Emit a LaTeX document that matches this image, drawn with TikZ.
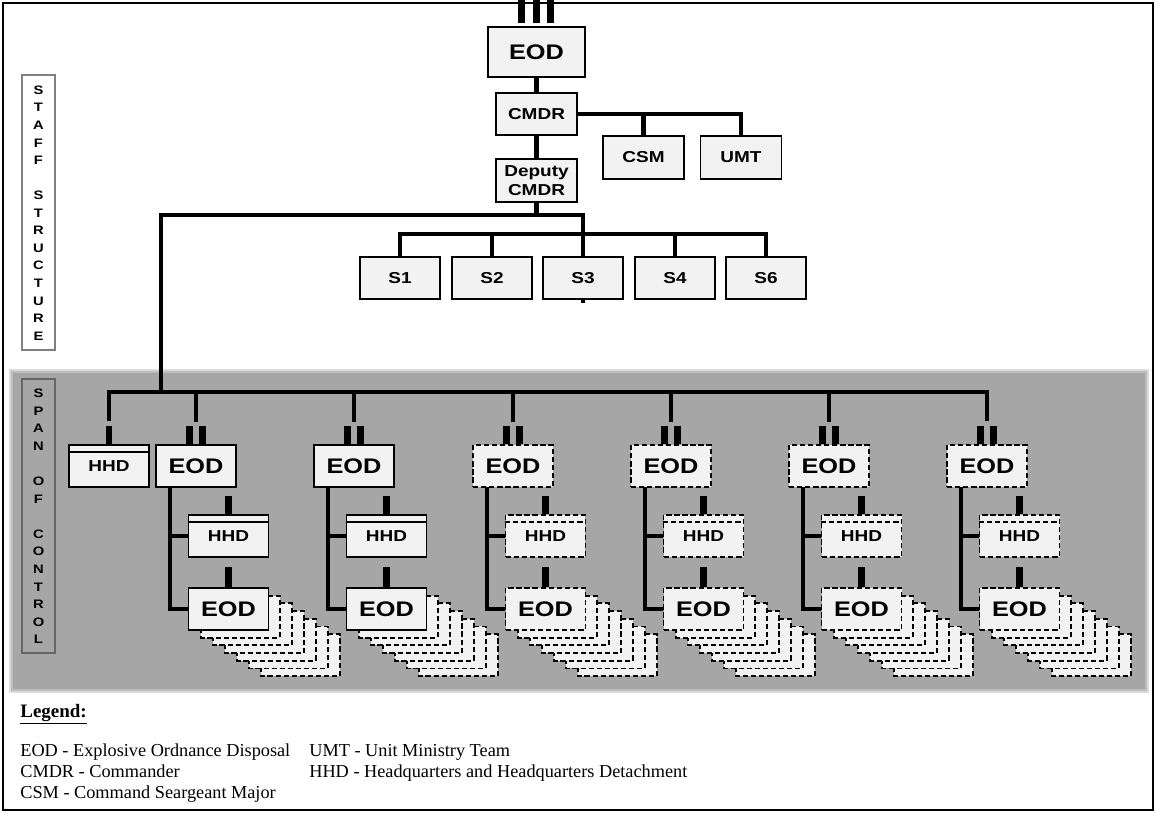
\documentclass[tikz,border=0pt]{standalone}
\usepackage{fontspec}
\setmainfont{Liberation Serif}
\newfontfamily\boxfont[FakeStretch=1.2]{Liberation Sans}
\usetikzlibrary{calc}
\definecolor{boxfill}{RGB}{242,242,242}
\definecolor{spanbg}{RGB}{166,166,166}
\definecolor{lblgray}{RGB}{128,128,128}

\begin{document}
\begin{tikzpicture}[x=0.02cm,y=-0.02cm,
  unit/.style={draw,line width=1.1pt,fill=boxfill,minimum width=1.6cm,minimum height=0.84cm,
    inner sep=0pt,align=center,font=\boxfont\bfseries\fontsize{9}{10.5}\selectfont},
  dunit/.style={unit,dash pattern=on 3pt off 1.6pt},
  big/.style={font=\boxfont\bfseries\fontsize{12}{14}\selectfont},
  copybox/.style={draw,fill=boxfill,line width=1.1pt,dash pattern=on 3pt off 1.6pt},
  conn/.style={line width=2.6pt},
  bar/.style={line width=3.6pt},
  side/.style={align=center,inner sep=0pt,font=\boxfont\bfseries\fontsize{7}{10}\selectfont},
  leg/.style={anchor=base west,inner sep=0pt,font=\fontsize{10.4}{12}\selectfont}]
\useasboundingbox (0,0) rectangle (1156,813);
% frame and shaded span area
\fill[spanbg!40] (9,369) rectangle (1149,693);
\fill[spanbg!75] (11,371) rectangle (1147,691);
\fill[spanbg] (13,373) rectangle (1145,689);
\draw[line width=1.6pt] (3,3) rectangle (1153,810);
% side labels
\draw[lblgray,line width=0.8pt,fill=white] (22,75) rectangle (55,350);
\node[side] (stafflbl) at (38.5,213) {S\\T\\A\\F\\F\\\mbox{}\\S\\T\\R\\U\\C\\T\\U\\R\\E};
\draw[black!60,line width=0.8pt] (22,379) rectangle (55,653);
\node[side] (spanlbl) at (38.5,516.5) {S\\P\\A\\N\\\mbox{}\\O\\F\\\mbox{}\\C\\O\\N\\T\\R\\O\\L};

% staff structure
\node[unit,big,minimum width=1.94cm,minimum height=1cm] (eodtop) at (536.5,52) {EOD};
\node[unit,minimum width=1.62cm] (cmdr) at (536.5,114) {CMDR};
\node[unit,minimum width=1.62cm,minimum height=0.86cm] (deputy) at (536.5,180.5) {Deputy\\CMDR};
\node[unit,minimum width=1.62cm,minimum height=0.86cm] (csm) at (643.5,157.5) {CSM};
\node[unit,minimum width=1.62cm,minimum height=0.86cm] (umt) at (741,157.5) {UMT};
\foreach \s/\x in {1/400,2/492,3/583,4/675,6/766}
  \node[unit] (s\s) at (\x,278) {S\s};

\foreach \dx in {-15,0,14}
  \draw[bar] ($(eodtop.north)+(\dx,-3)$) -- ++(0,-25);
\draw[conn] (eodtop) -- (cmdr);
\draw[conn] (cmdr) -- (deputy);
\draw[conn] (cmdr.east) -| (umt.north);
\draw[conn] (cmdr.east -| csm.north) -- (csm.north);
\coordinate (tee) at (161,215);
\coordinate (spanhub) at (161,393);
\coordinate (sbus) at (400,234);
\draw[conn] (deputy) -- (deputy |- tee);
\draw[conn] (s3.north) |- (tee) -- (spanhub);
\draw[conn] (s1.north) |- (sbus -| s6.north) -- (s6.north);
\foreach \s in {2,4}
  \draw[conn] (s\s) -- (s\s |- sbus);
\draw[conn] (s3.south) -- ++(0,3);

% span of control
\node[unit] (hhd0) at (109,466) {HHD};
\draw[line width=1.1pt] ($(hhd0.north west)+(0,8)$) -- ($(hhd0.north east)+(0,8)$);
\draw[bar] (hhd0.north) -- ++(0,-18);
\foreach \i/\c/\st in {1/196/unit,2/354/unit,3/513/dunit,4/671/dunit,5/829/dunit,6/987/dunit} {
  \foreach \k in {6,5,...,1}
    \filldraw[copybox] (\c-7+12*\k,588+7.7*\k) rectangle ++(79,42);
  \node[\st,big] (eod\i) at (\c,466) {EOD};
  \node[\st] (hq\i) at (\c+32.5,536) {HHD};
  \draw[\st] ($(hq\i.north west)+(0,8)$) -- ($(hq\i.north east)+(0,8)$);
  \node[\st,big] (sub\i) at (\c+32.5,609) {EOD};
  \coordinate (stem\i) at (\c-26,487);
  \draw[conn] (stem\i) |- (sub\i.west);
  \draw[conn] (stem\i |- hq\i.west) -- (hq\i.west);
  \draw[bar] (hq\i.north) -- ++(0,-18);
  \draw[bar] (sub\i.north) -- ++(0,-20);
  \draw[bar] ($(eod\i.north)+(-6.5,0)$) -- ++(0,-18);
  \draw[bar] ($(eod\i.north)+(6.5,0)$) -- ++(0,-18);
}
\draw[conn] ($(hhd0.north)+(0,-23)$) |- ($(eod6.north)+(0,-52)$) -- ++(0,29);
\foreach \i in {1,...,5}
  \draw[conn] (eod\i.north |- spanhub) -- ++(0,29);

% legend
\node[leg,font=\fontsize{10.8}{12}\selectfont\bfseries] (legtitle) at (20,717) {\underline{Legend:}};
\node[leg] (legeod) at (20,756) {EOD - Explosive Ordnance Disposal};
\node[leg] (legcmdr) at (20,777) {CMDR - Commander};
\node[leg] (legcsm) at (20,798) {CSM - Command Seargeant Major};
\node[leg] (legumt) at (309,756) {UMT - Unit Ministry Team};
\node[leg] (leghhd) at (309,777) {HHD - Headquarters and Headquarters Detachment};
\end{tikzpicture}
\end{document}
